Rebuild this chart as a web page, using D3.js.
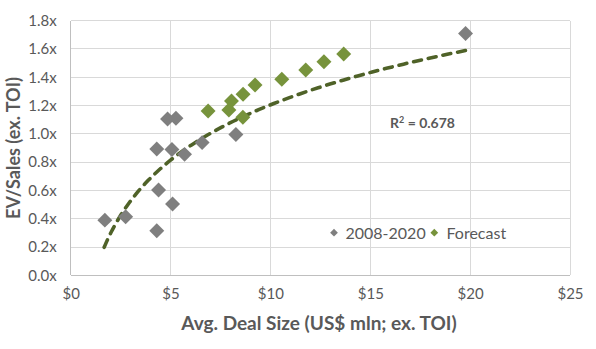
<!DOCTYPE html>
<html><head><meta charset="utf-8">
<script src="https://cdn.jsdelivr.net/npm/d3@7"></script>
<style>body{margin:0;background:#fff}svg{display:block}text{font-family:Lato,"Open Sans",sans-serif}</style>
</head><body><svg id="c" width="596" height="349"></svg>
<script>
// Data
const histX = [1.71, 2.75, 4.31, 4.40, 5.10, 4.31, 5.07, 5.70, 4.85, 5.27, 6.58, 8.27, 19.77];
const histY = [0.39, 0.414, 0.315, 0.603, 0.504, 0.893, 0.89, 0.855, 1.105, 1.11, 0.938, 0.995, 1.71];
const fcX = [6.88, 7.92, 8.05, 8.62, 8.63, 9.23, 10.57, 11.77, 12.68, 13.67];
const fcY = [1.162, 1.169, 1.233, 1.117, 1.28, 1.346, 1.386, 1.452, 1.51, 1.565];
const xTicks = [0, 5, 10, 15, 20, 25];
const yTicks = [0, 0.2, 0.4, 0.6, 0.8, 1.0, 1.2, 1.4, 1.6, 1.8];
const seriesNames = ["2008-2020", "Forecast"];
const r2Label = "0.678";

const svg = d3.select("#c");
const m = {l: 70.7, r: 570, t: 20.7, b: 275.3};
const x = d3.scaleLinear().domain([0, 25]).range([m.l, m.r]);
const y = d3.scaleLinear().domain([0, 1.8]).range([m.b, m.t]);
const grid = "#d9d9d9", txt = "#595959";
const gray = "#7f7f7f", green = "#77933c", trend = "#4f6228";

// gridlines
svg.append("g").selectAll("line").data(yTicks).join("line")
  .attr("x1", m.l).attr("x2", m.r).attr("y1", d => y(d)).attr("y2", d => y(d))
  .attr("stroke", d => d === 0 ? "#bfbfbf" : grid).attr("stroke-width", 1).attr("shape-rendering", "crispEdges");
svg.append("g").selectAll("line").data(xTicks).join("line")
  .attr("y1", m.t).attr("y2", m.b).attr("x1", d => x(d)).attr("x2", d => x(d))
  .attr("stroke", d => d === 0 ? "#bfbfbf" : grid).attr("stroke-width", 1).attr("shape-rendering", "crispEdges");

// axes (labels only)
const yAxis = d3.axisLeft(y).tickValues(yTicks).tickFormat(d => d3.format(".1f")(d) + "x").tickSize(0).tickPadding(14);
const ga = svg.append("g").attr("transform", `translate(${m.l},0)`).call(yAxis);
const xAxis = d3.axisBottom(x).tickValues(xTicks).tickFormat(d => "$" + d).tickSize(0).tickPadding(13);
const gb = svg.append("g").attr("transform", `translate(0,${m.b})`).call(xAxis);
[ga, gb].forEach(g => {
  g.select(".domain").remove();
  g.selectAll("text").attr("fill", txt).style("font-size", "15px").style("font-family", "Lato, sans-serif");
});

// trendline: log regression on historical series
const lx = histX.map(Math.log);
const mx = d3.mean(lx), my = d3.mean(histY);
const sxy = d3.sum(lx, (v, i) => (v - mx) * (histY[i] - my));
const sxx = d3.sum(lx, v => (v - mx) ** 2);
const a = sxy / sxx, b = my - a * mx;
const x0 = d3.min(histX) * 0.98, x1 = d3.max(histX) * 1.002;
const tx = d3.range(0, 101).map(i => x0 * Math.pow(x1 / x0, i / 100));
svg.append("path")
  .datum(tx)
  .attr("d", d3.line().x(d => x(d)).y(d => y(a * Math.log(d) + b)))
  .attr("fill", "none").attr("stroke", trend).attr("stroke-width", 3.6)
  .attr("stroke-dasharray", "8,7").attr("stroke-linecap", "round");

// markers
const sym = d3.symbol(d3.symbolSquare, 112);
function pts(xs, ys, color) {
  svg.append("g").selectAll("path").data(xs.map((v, i) => [v, ys[i]])).join("path")
    .attr("d", sym)
    .attr("transform", d => `translate(${x(d[0])},${y(d[1])}) rotate(45)`)
    .attr("fill", color);
}
pts(histX, histY, gray);
pts(fcX, fcY, green);

// R2 label
const r2 = svg.append("text").attr("x", 390).attr("y", 128).attr("fill", txt)
  .style("font-size", "14px").style("font-weight", "bold");
r2.append("tspan").text("R");
r2.append("tspan").text("2").attr("dy", -5).style("font-size", "9px");
r2.append("tspan").text(" = " + r2Label).attr("dy", 5);

// legend
const leg = svg.append("g");
const ls = d3.symbol(d3.symbolSquare, 30);
[[334, gray, 345.5], [434.3, green, 446.5]].forEach((p, i) => {
  leg.append("path").attr("d", ls).attr("transform", `translate(${p[0]},232.7) rotate(45)`).attr("fill", p[1]);
  leg.append("text").attr("x", p[2]).attr("y", 238.5).attr("fill", txt)
    .style("font-size", "16px").text(seriesNames[i]);
});

// axis titles
svg.append("text").attr("x", 319).attr("y", 329.5).attr("text-anchor", "middle").attr("fill", txt)
  .style("font-size", "19px").style("font-weight", "bold").text("Avg. Deal Size (US$ mln; ex. TOI)");
svg.append("text").attr("transform", "translate(20,148) rotate(-90)").attr("text-anchor", "middle").attr("fill", txt)
  .style("font-size", "18px").style("font-weight", "bold").text("EV/Sales (ex. TOI)");
</script></body></html>
